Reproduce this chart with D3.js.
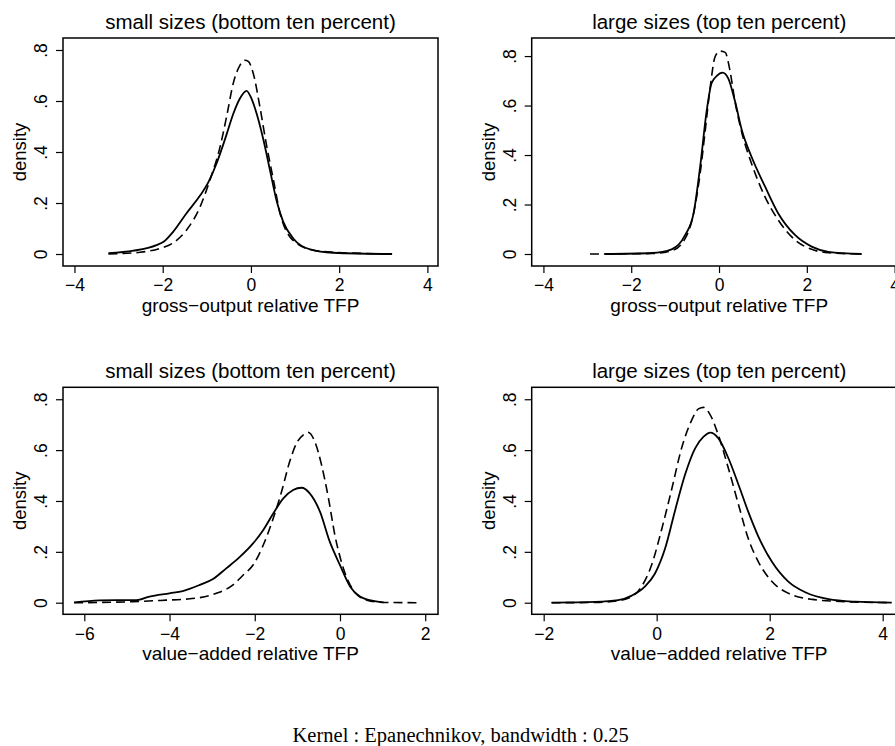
<!DOCTYPE html>
<html>
<head>
<meta charset="utf-8">
<script src="https://cdn.jsdelivr.net/npm/d3@7"></script>
<style>
  body { margin: 0; background: #fff; }
  svg { display: block; }
  .tick text { font-family: "Liberation Sans", Arial, sans-serif; }
</style>
</head>
<body>
<div id="chart"></div>
<script>
// Kernel density panels: gross-output and value-added relative TFP,
// small (bottom ten percent) vs large (top ten percent) sizes.
// Each series is a list of [tfp, density] points.

const yTicks = [0, 0.2, 0.4, 0.6, 0.8];
const yTickLabels = ["0", ".2", ".4", ".6", ".8"];

// gross-output TFP, small sizes
const goSmallSolid = [
  [-3.23, 0.003], [-2.66, 0.013], [-2.14, 0.035], [-1.98, 0.048], [-1.76, 0.088],
  [-1.46, 0.16], [-1.15, 0.23], [-0.97, 0.28], [-0.78, 0.355], [-0.55, 0.47],
  [-0.4, 0.55], [-0.25, 0.61], [-0.1, 0.64], [0.01, 0.61], [0.13, 0.55],
  [0.28, 0.45], [0.43, 0.33], [0.58, 0.21], [0.73, 0.127], [0.96, 0.061],
  [1.34, 0.018], [1.86, 0.005], [3.2, 0.0]
];
const goSmallDashed = [
  [-3.23, 0.0], [-2.51, 0.007], [-2.06, 0.022], [-1.76, 0.044], [-1.46, 0.094],
  [-1.15, 0.186], [-0.93, 0.29], [-0.7, 0.42], [-0.55, 0.54], [-0.4, 0.67],
  [-0.25, 0.74], [-0.14, 0.76], [-0.06, 0.755], [0.05, 0.71], [0.2, 0.58],
  [0.35, 0.43], [0.51, 0.29], [0.66, 0.16], [0.88, 0.068], [1.34, 0.018],
  [1.86, 0.007], [3.2, 0.0]
];

// gross-output TFP, large sizes
const goLargeSolid = [
  [-2.6, 0.0], [-1.53, 0.004], [-1.08, 0.019], [-0.77, 0.077], [-0.58, 0.164],
  [-0.43, 0.353], [-0.28, 0.58], [-0.17, 0.69], [-0.05, 0.72], [0.08, 0.733],
  [0.21, 0.71], [0.36, 0.62], [0.52, 0.5], [0.74, 0.393], [1.05, 0.272],
  [1.35, 0.164], [1.73, 0.077], [2.11, 0.03], [2.49, 0.009], [3.25, 0.0]
];
const goLargeDashed = [
  [-2.94, 0.0], [-1.53, 0.002], [-1.08, 0.013], [-0.77, 0.063], [-0.58, 0.164],
  [-0.43, 0.326], [-0.32, 0.49], [-0.2, 0.676], [-0.09, 0.797], [0.02, 0.82],
  [0.14, 0.815], [0.25, 0.74], [0.36, 0.62], [0.52, 0.49], [0.74, 0.366],
  [1.05, 0.23], [1.35, 0.137], [1.73, 0.057], [2.11, 0.019], [2.49, 0.005],
  [3.25, 0.0]
];

// value-added TFP, small sizes
const vaSmallSolid = [
  [-6.24, 0.001], [-5.65, 0.009], [-5.25, 0.01], [-4.78, 0.01], [-4.47, 0.024],
  [-4.0, 0.037], [-3.69, 0.046], [-3.29, 0.07], [-2.98, 0.093], [-2.67, 0.135],
  [-2.35, 0.18], [-2.04, 0.233], [-1.8, 0.286], [-1.57, 0.35], [-1.33, 0.41],
  [-1.1, 0.443], [-0.9, 0.452], [-0.71, 0.43], [-0.47, 0.358], [-0.24, 0.24],
  [0.0, 0.148], [0.24, 0.063], [0.47, 0.024], [0.78, 0.007], [1.02, 0.001]
];
const vaSmallDashed = [
  [-6.24, 0.0], [-4.86, 0.004], [-4.08, 0.01], [-3.61, 0.014], [-3.29, 0.02],
  [-2.9, 0.037], [-2.51, 0.07], [-2.27, 0.109], [-2.04, 0.148], [-1.8, 0.227],
  [-1.57, 0.33], [-1.37, 0.437], [-1.18, 0.555], [-1.02, 0.627], [-0.86, 0.66],
  [-0.75, 0.67], [-0.59, 0.633], [-0.43, 0.54], [-0.27, 0.41], [-0.12, 0.266],
  [0.08, 0.135], [0.31, 0.05], [0.63, 0.01], [1.02, 0.001], [1.8, 0.0]
];

// value-added TFP, large sizes
const vaLargeSolid = [
  [-1.86, 0.0], [-1.09, 0.003], [-0.68, 0.01], [-0.44, 0.028], [-0.21, 0.063],
  [-0.03, 0.115], [0.15, 0.214], [0.32, 0.358], [0.5, 0.502], [0.68, 0.607],
  [0.83, 0.653], [0.95, 0.669], [1.09, 0.647], [1.27, 0.568], [1.45, 0.463],
  [1.62, 0.358], [1.8, 0.26], [2.04, 0.161], [2.33, 0.083], [2.63, 0.041],
  [3.04, 0.014], [3.51, 0.004], [4.16, 0.0]
];
const vaLargeDashed = [
  [-1.86, 0.0], [-1.09, 0.001], [-0.68, 0.008], [-0.44, 0.024], [-0.27, 0.063],
  [-0.09, 0.148], [0.09, 0.29], [0.27, 0.45], [0.44, 0.607], [0.62, 0.718],
  [0.74, 0.762], [0.83, 0.768], [0.95, 0.738], [1.09, 0.66], [1.27, 0.528],
  [1.45, 0.384], [1.62, 0.253], [1.8, 0.161], [2.04, 0.083], [2.33, 0.037],
  [2.75, 0.013], [3.34, 0.004], [4.16, 0.0]
];

const panels = [
  { title: "small sizes (bottom ten percent)", xTitle: "gross\u2212output relative TFP",
    left: 63, top: 38, xDomain: [-4.26, 4.24], yDomain: [-0.047, 0.847],
    xTicks: [-4, -2, 0, 2, 4], solid: goSmallSolid, dashed: goSmallDashed },
  { title: "large sizes (top ten percent)", xTitle: "gross\u2212output relative TFP",
    left: 531.7, top: 38, xDomain: [-4.267, 4.275], yDomain: [-0.0485, 0.873],
    xTicks: [-4, -2, 0, 2, 4], solid: goLargeSolid, dashed: goLargeDashed },
  { title: "small sizes (bottom ten percent)", xTitle: "value\u2212added relative TFP",
    left: 63, top: 387.3, xDomain: [-6.5, 2.3], yDomain: [-0.0456, 0.847],
    xTicks: [-6, -4, -2, 0, 2], solid: vaSmallSolid, dashed: vaSmallDashed },
  { title: "large sizes (top ten percent)", xTitle: "value\u2212added relative TFP",
    left: 531.7, top: 387.3, xDomain: [-2.212, 4.425], yDomain: [-0.0456, 0.847],
    xTicks: [-2, 0, 2, 4], solid: vaLargeSolid, dashed: vaLargeDashed }
];

const W = 895, H = 746;
const pw = 375;
const ph = [228, 228, 227, 227];

const svg = d3.select("#chart").append("svg")
  .attr("width", W)
  .attr("height", H);

const sans = "'Liberation Sans', Arial, Helvetica, sans-serif";

panels.forEach((p, i) => {
  const h = ph[i];
  const g = svg.append("g").attr("transform", `translate(${p.left},${p.top})`);

  const x = d3.scaleLinear().domain(p.xDomain).range([0, pw]);
  const y = d3.scaleLinear().domain(p.yDomain).range([h, 0]);

  // x axis
  const xAxis = g.append("g")
    .attr("transform", `translate(0,${h})`)
    .call(d3.axisBottom(x).tickValues(p.xTicks).tickSize(7).tickPadding(6)
      .tickFormat(d => d < 0 ? "\u2212" + Math.abs(d) : String(d)));
  xAxis.select(".domain").remove();
  xAxis.selectAll("line").attr("stroke", "#000").attr("stroke-width", 1.2);
  xAxis.selectAll("text").attr("font-size", 17.5).attr("fill", "#000");

  // y axis, labels rotated
  const yAxis = g.append("g")
    .call(d3.axisLeft(y).tickValues(yTicks).tickSize(7)
      .tickFormat((d, k) => yTickLabels[k]));
  yAxis.select(".domain").remove();
  yAxis.selectAll("line").attr("stroke", "#000").attr("stroke-width", 1.2);
  yAxis.selectAll("text")
    .attr("x", null).attr("dy", null)
    .attr("text-anchor", "middle")
    .attr("transform", "translate(-16,0) rotate(-90)")
    .attr("font-size", 17.5).attr("fill", "#000");

  // frame
  g.append("rect")
    .attr("width", pw).attr("height", h)
    .attr("fill", "none").attr("stroke", "#000").attr("stroke-width", 1.5);

  const line = d3.line()
    .x(d => x(d[0]))
    .y(d => y(d[1]))
    .curve(d3.curveMonotoneX);

  g.append("path")
    .datum(p.dashed)
    .attr("d", line)
    .attr("fill", "none").attr("stroke", "#000").attr("stroke-width", 1.6)
    .attr("stroke-dasharray", "9,5");

  g.append("path")
    .datum(p.solid)
    .attr("d", line)
    .attr("fill", "none").attr("stroke", "#000").attr("stroke-width", 1.8);

  // titles
  g.append("text")
    .attr("x", pw / 2).attr("y", -9)
    .attr("text-anchor", "middle")
    .attr("font-family", sans).attr("font-size", 20.5)
    .text(p.title);

  g.append("text")
    .attr("x", pw / 2).attr("y", h + 46)
    .attr("text-anchor", "middle")
    .attr("font-family", sans).attr("font-size", 19)
    .text(p.xTitle);

  g.append("text")
    .attr("transform", `translate(-37,${h / 2}) rotate(-90)`)
    .attr("text-anchor", "middle")
    .attr("font-family", sans).attr("font-size", 18.5)
    .text("density");
});

svg.append("text")
  .attr("x", 460.7).attr("y", 742)
  .attr("text-anchor", "middle")
  .attr("font-family", "'Liberation Serif', 'Times New Roman', serif")
  .attr("font-size", 20.5)
  .text("Kernel : Epanechnikov, bandwidth : 0.25");
</script>
</body>
</html>
